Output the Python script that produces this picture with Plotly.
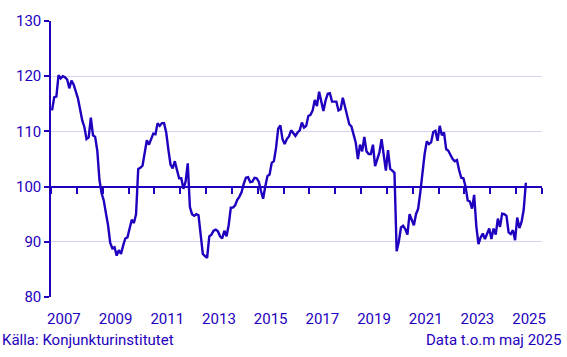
import plotly.graph_objects as go

# Monthly index values, Jan 2007 - May 2025
v2007 = [113.8, 116.2, 116.3, 120.2, 119.6, 120.0, 119.8, 119.4, 117.8, 119.2, 118.5, 117.3]
v2008 = [116.0, 114.0, 112.0, 110.8, 108.6, 108.9, 112.5, 109.3, 109.0, 106.5, 101.2, 98.8]
v2009 = [97.5, 95.2, 93.0, 89.8, 88.8, 89.0, 87.5, 88.5, 87.8, 89.3, 90.6, 90.8]
v2010 = [92.6, 94.0, 93.4, 95.0, 103.2, 103.4, 103.8, 105.8, 108.4, 107.6, 108.6, 109.6]
v2011 = [109.5, 111.5, 111.0, 111.5, 111.5, 109.8, 106.7, 104.0, 103.3, 104.6, 103.0, 101.5]
v2012 = [101.5, 99.6, 100.9, 104.2, 96.3, 95.0, 94.7, 95.0, 94.8, 91.5, 87.8, 87.4]
v2013 = [87.1, 91.0, 91.3, 92.0, 92.2, 91.9, 91.0, 90.6, 92.0, 91.0, 93.0, 96.2]
v2014 = [96.2, 96.6, 97.6, 98.2, 99.0, 100.5, 101.6, 101.7, 100.8, 100.9, 101.6, 101.5]
v2015 = [100.9, 99.2, 97.8, 100.0, 101.9, 102.2, 104.3, 104.6, 107.0, 110.5, 111.1, 108.6]
v2016 = [107.7, 108.6, 109.1, 110.2, 109.6, 109.2, 109.8, 110.2, 111.6, 110.7, 111.0, 112.8]
v2017 = [113.0, 113.8, 115.7, 114.6, 117.2, 115.5, 113.7, 115.6, 116.8, 116.9, 115.4, 115.4]
v2018 = [115.4, 113.8, 114.0, 116.1, 114.4, 112.4, 111.3, 110.9, 109.3, 108.0, 105.0, 107.6]
v2019 = [106.4, 109.0, 106.4, 105.9, 105.9, 107.6, 103.7, 105.1, 106.2, 108.6, 106.0, 102.9]
v2020 = [106.6, 103.2, 102.9, 102.5, 88.3, 90.0, 92.6, 92.9, 92.3, 91.3, 95.0, 94.0]
v2021 = [93.0, 95.0, 96.0, 99.0, 102.8, 105.9, 108.2, 107.7, 108.0, 109.9, 110.1, 108.3]
v2022 = [111.0, 109.3, 109.8, 106.8, 106.5, 105.8, 105.0, 104.6, 104.8, 103.0, 101.6, 101.5]
v2023 = [100.0, 97.5, 97.3, 96.0, 98.5, 92.8, 89.6, 90.8, 91.5, 90.5, 91.3, 92.4]
v2024 = [90.5, 92.4, 91.3, 94.2, 92.7, 95.1, 95.0, 94.7, 91.7, 91.4, 92.1, 90.3]
v2025 = [94.4, 92.5, 93.6, 95.8, 100.7]

years = list(range(2007, 2026))
yearly = [v2007, v2008, v2009, v2010, v2011, v2012, v2013, v2014, v2015, v2016,
          v2017, v2018, v2019, v2020, v2021, v2022, v2023, v2024, v2025]

x_vals, y_vals = [], []
for yr, vals in zip(years, yearly):
    for m, v in enumerate(vals):
        x_vals.append(yr + (m + 0.5) / 12)
        y_vals.append(v)

tick_labels = ["2007", "2009", "2011", "2013", "2015", "2017", "2019", "2021", "2023", "2025"]
label_pos = [int(t) + 0.5 for t in tick_labels]
year_ticks = list(range(2007, 2027))
y_ticks = [80, 90, 100, 110, 120, 130]

BLUE = "#1e00be"
GRID = "#d2d2f4"
FONT = "Roboto"

fig = go.Figure()
fig.add_trace(go.Scatter(x=x_vals, y=y_vals, mode="lines",
                         line=dict(color=BLUE, width=2.4), showlegend=False,
                         hoverinfo="x+y"))
# helper trace so the reference-line axis at 100 is rendered
fig.add_trace(go.Scatter(x=[x_vals[0], x_vals[-1]], y=[None, None], xaxis="x2",
                         mode="lines", showlegend=False, hoverinfo="skip"))

fig.update_layout(
    width=567, height=357,
    margin=dict(l=51, r=25, t=18, b=60),
    paper_bgcolor="white", plot_bgcolor="white",
    font=dict(family=FONT, color=BLUE, size=15),
    xaxis=dict(range=[2007, 2026], tickvals=label_pos, ticktext=tick_labels,
               ticks="outside", ticklen=8, tickcolor="rgba(0,0,0,0)",
               showgrid=False, showline=False, zeroline=False,
               tickfont=dict(size=15, color=BLUE, family=FONT)),
    xaxis2=dict(range=[2007, 2026], overlaying="x", anchor="free", position=0.4,
                tickvals=year_ticks, showticklabels=False,
                ticks="outside", ticklen=6, tickwidth=2, tickcolor=BLUE,
                showline=True, linecolor=BLUE, linewidth=2,
                showgrid=False, zeroline=False, layer="below traces"),
    yaxis=dict(range=[80, 130], tickvals=y_ticks, showgrid=True, gridcolor=GRID,
               gridwidth=1, showline=True, linecolor=BLUE, linewidth=1.5,
               ticks="outside", ticklen=5, tickwidth=1.5, tickcolor=BLUE,
               zeroline=False, tickfont=dict(size=15, color=BLUE, family=FONT)),
    annotations=[
        dict(text="Källa: Konjunkturinstitutet", xref="paper", yref="paper",
             x=-51/491, y=-0.155, xanchor="left", yanchor="middle", showarrow=False,
             font=dict(size=15, color=BLUE, family=FONT)),
        dict(text="Data t.o.m maj 2025", xref="paper", yref="paper",
             x=1.043, y=-0.155, xanchor="right", yanchor="middle", showarrow=False,
             font=dict(size=15, color=BLUE, family=FONT)),
    ],
)

fig.write_html("out.html", config={"displayModeBar": False})

# remove the browser's default page margin so the figure sits at the window origin
with open("out.html", encoding="utf-8") as f:
    html = f.read()
html = html.replace("<body>", '<body style="margin:0;padding:0;overflow:hidden">', 1)
with open("out.html", "w", encoding="utf-8") as f:
    f.write(html)
